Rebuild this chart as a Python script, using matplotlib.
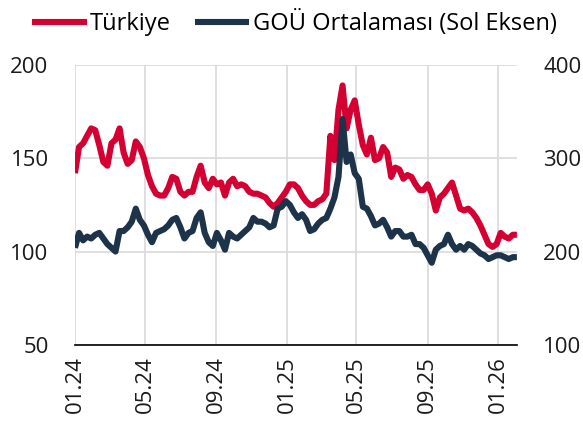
import matplotlib
matplotlib.use("Agg")
import matplotlib.pyplot as plt
import matplotlib.dates as mdates
import pandas as pd

plt.rcParams['font.family'] = ['Open Sans', 'DejaVu Sans']

# haftalik veri, 01.2024 - 02.2026
dates = pd.date_range("2024-01-01", periods=110, freq="7D")

# Turkiye (sag eksen)
turkiye = [284, 312, 316, 324, 332, 330, 314, 296, 292, 316,
           320, 332, 306, 294, 298, 318, 312, 300, 282, 270,
           262, 260, 260, 268, 280, 278, 264, 260, 264, 264,
           280, 292, 274, 268, 278, 272, 274, 260, 274, 278,
           270, 272, 270, 264, 262, 262, 260, 258, 252, 248,
           252, 258, 264, 272, 272, 268, 260, 254, 250, 250,
           254, 256, 262, 324, 298, 352, 378, 332, 352, 362,
           336, 314, 304, 322, 298, 300, 312, 306, 280, 290,
           288, 278, 282, 280, 272, 266, 266, 272, 262, 244,
           258, 262, 268, 274, 260, 246, 244, 246, 242, 236,
           228, 218, 208, 205, 208, 220, 216, 214, 218, 218]

# GOU ortalamasi (sol eksen)
gou = [102, 110, 106, 108, 107, 109, 110, 107, 104, 102,
       100, 111, 111, 113, 116, 123, 117, 114, 109, 105,
       110, 111, 112, 114, 117, 118, 113, 107, 110, 111,
       118, 121, 110, 105, 103, 110, 106, 101, 110, 108,
       107, 109, 111, 113, 118, 116, 116, 115, 113, 114,
       123, 124, 127, 125, 121, 118, 120, 117, 111, 112,
       115, 117, 118, 123, 129, 140, 171, 148, 152, 142,
       139, 124, 123, 119, 114, 115, 117, 113, 108, 111,
       111, 108, 108, 109, 104, 104, 102, 98, 94, 101,
       103, 104, 109, 104, 101, 103, 101, 104, 103, 101,
       99, 98, 96, 97, 98, 98, 97, 96, 97, 97]

red = '#D50032'
navy = '#1D3349'

fig = plt.figure(figsize=(5.83, 4.30), dpi=100)
ax = fig.add_axes([0.1286, 0.198, 0.758, 0.651])
ax2 = ax.twinx()
ax3 = ax.twinx()

l1, = ax2.plot(dates, turkiye, color=red, lw=4.4, solid_capstyle='butt')
l2, = ax3.plot(dates, gou, color=navy, lw=4.4, solid_capstyle='butt')

ax.set_ylim(50, 200)
ax3.set_ylim(50, 200)
ax2.set_ylim(100, 400)
ax.set_yticks([50, 100, 150, 200])
ax2.set_yticks([100, 200, 300, 400])
ax3.set_yticks([])
ax.set_xlim(dates[0], dates[-1])
ax.xaxis.set_major_locator(mdates.MonthLocator(bymonth=[1, 5, 9]))
ax.xaxis.set_major_formatter(mdates.DateFormatter('%m.%y'))

ax.grid(True, color='#d9d9d9', lw=1.2)
for a in (ax, ax2, ax3):
    for s in ('top', 'left', 'right', 'bottom'):
        a.spines[s].set_visible(False)
ax.spines['bottom'].set_visible(True)
ax.spines['bottom'].set_color('black')
ax.spines['bottom'].set_linewidth(1.2)

ax.tick_params(axis='both', length=0, labelsize=16, colors='#1a1a1a')
ax.tick_params(axis='y', pad=19)
ax.tick_params(axis='x', rotation=90, pad=8)
ax2.tick_params(axis='y', length=0, labelsize=16, colors='#1a1a1a', pad=19)

fig.legend([l1, l2], ['Türkiye', 'GOÜ Ortalaması (Sol Eksen)'],
           loc='upper center', bbox_to_anchor=(0.505, 1.025), ncol=2,
           frameon=False, fontsize=17, handlelength=2.3, handletextpad=0.15,
           columnspacing=1.0)

fig.savefig('out.png', dpi=100)
